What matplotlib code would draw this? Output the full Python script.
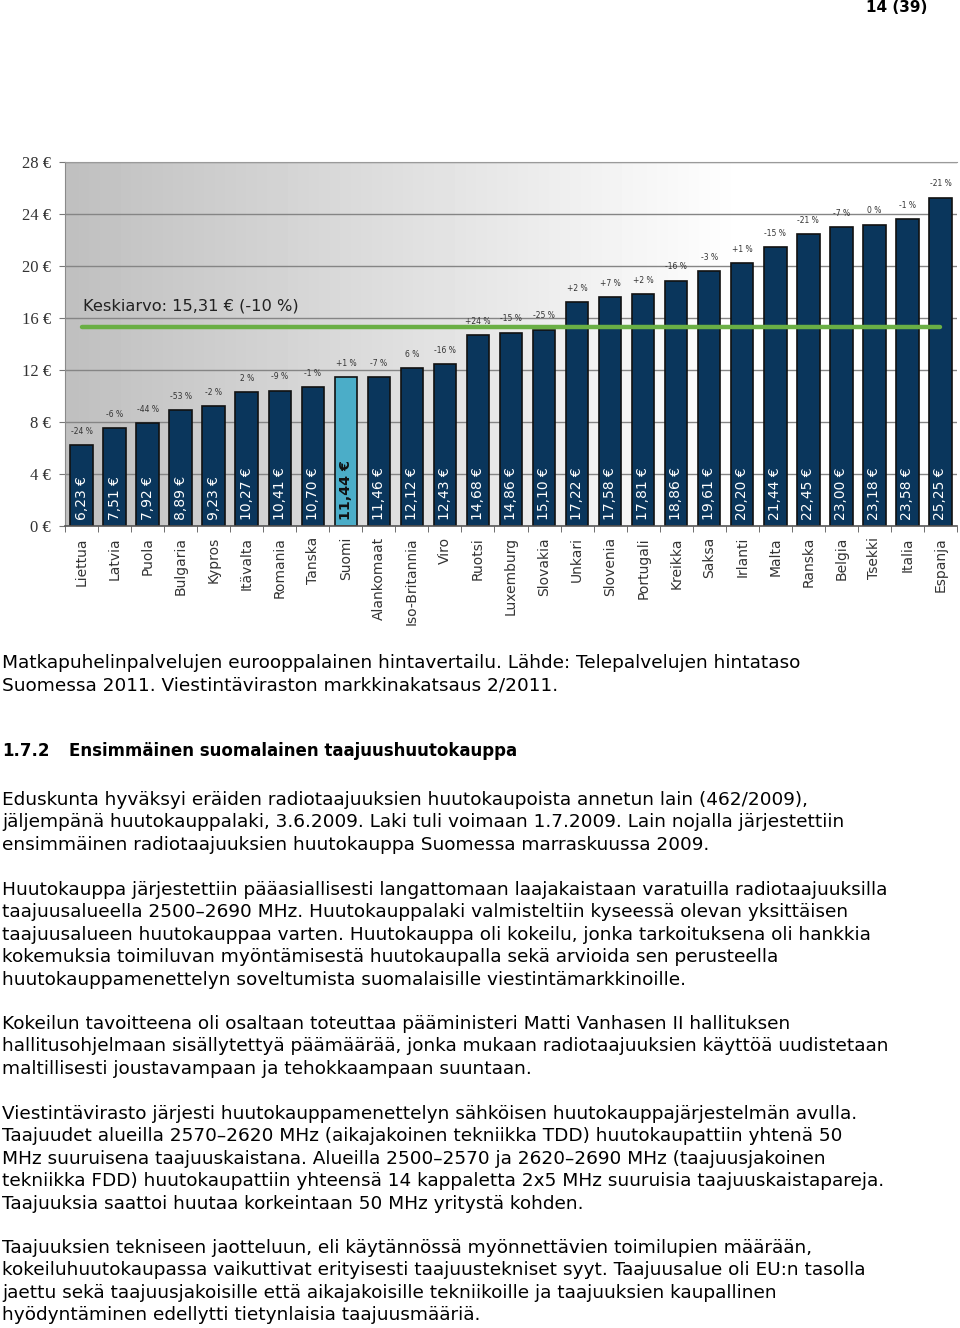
import numpy as np
import matplotlib.pyplot as plt

countries = ['Liettua', 'Latvia', 'Puola', 'Bulgaria', 'Kypros', 'Itävalta', 'Romania',
             'Tanska', 'Suomi', 'Alankomaat', 'Iso-Britannia', 'Viro', 'Ruotsi', 'Luxemburg',
             'Slovakia', 'Unkari', 'Slovenia', 'Portugali', 'Kreikka', 'Saksa', 'Irlanti',
             'Malta', 'Ranska', 'Belgia', 'Tsekki', 'Italia', 'Espanja']
prices = [6.23, 7.51, 7.92, 8.89, 9.23, 10.27, 10.41, 10.70, 11.44, 11.46, 12.12, 12.43,
          14.68, 14.86, 15.10, 17.22, 17.58, 17.81, 18.86, 19.61, 20.20, 21.44, 22.45,
          23.00, 23.18, 23.58, 25.25]
changes = ['-24 %', '-6 %', '-44 %', '-53 %', '-2 %', '2 %', '-9 %', '-1 %', '+1 %', '-7 %',
           '6 %', '-16 %', '+24 %', '-15 %', '-25 %', '+2 %', '+7 %', '+2 %', '-16 %', '-3 %',
           '+1 %', '-15 %', '-21 %', '-7 %', '0 %', '-1 %', '-21 %']
average = 15.31
avg_label = 'Keskiarvo: 15,31 € (-10 %)'
yticks = [0, 4, 8, 12, 16, 20, 24, 28]
highlight = 'Suomi'

caption = ['Matkapuhelinpalvelujen eurooppalainen hintavertailu. Lähde: Telepalvelujen hintataso',
           'Suomessa 2011. Viestintäviraston markkinakatsaus 2/2011.']
heading_no = '1.7.2'
heading = 'Ensimmäinen suomalainen taajuushuutokauppa'
paragraphs = [
    ['Eduskunta hyväksyi eräiden radiotaajuuksien huutokaupoista annetun lain (462/2009),',
     'jäljempänä huutokauppalaki, 3.6.2009. Laki tuli voimaan 1.7.2009. Lain nojalla järjestettiin',
     'ensimmäinen radiotaajuuksien huutokauppa Suomessa marraskuussa 2009.'],
    ['Huutokauppa järjestettiin pääasiallisesti langattomaan laajakaistaan varatuilla radiotaajuuksilla',
     'taajuusalueella 2500–2690 MHz. Huutokauppalaki valmisteltiin kyseessä olevan yksittäisen',
     'taajuusalueen huutokauppaa varten. Huutokauppa oli kokeilu, jonka tarkoituksena oli hankkia',
     'kokemuksia toimiluvan myöntämisestä huutokaupalla sekä arvioida sen perusteella',
     'huutokauppamenettelyn soveltumista suomalaisille viestintämarkkinoille.'],
    ['Kokeilun tavoitteena oli osaltaan toteuttaa pääministeri Matti Vanhasen II hallituksen',
     'hallitusohjelmaan sisällytettyä päämäärää, jonka mukaan radiotaajuuksien käyttöä uudistetaan',
     'maltillisesti joustavampaan ja tehokkaampaan suuntaan.'],
    ['Viestintävirasto järjesti huutokauppamenettelyn sähköisen huutokauppajärjestelmän avulla.',
     'Taajuudet alueilla 2570–2620 MHz (aikajakoinen tekniikka TDD) huutokaupattiin yhtenä 50',
     'MHz suuruisena taajuuskaistana. Alueilla 2500–2570 ja 2620–2690 MHz (taajuusjakoinen',
     'tekniikka FDD) huutokaupattiin yhteensä 14 kappaletta 2x5 MHz suuruisia taajuuskaistapareja.',
     'Taajuuksia saattoi huutaa korkeintaan 50 MHz yritystä kohden.'],
    ['Taajuuksien tekniseen jaotteluun, eli käytännössä myönnettävien toimilupien määrään,',
     'kokeiluhuutokaupassa vaikuttivat erityisesti taajuustekniset syyt. Taajuusalue oli EU:n tasolla',
     'jaettu sekä taajuusjakoisille että aikajakoisille tekniikoille ja taajuuksien kaupallinen',
     'hyödyntäminen edellytti tietynlaisia taajuusmääriä.'],
]

W, H = 960, 1328
fig = plt.figure(figsize=(W / 100, H / 100), dpi=100)

def fy(px):
    return 1 - px / H

ax = fig.add_axes([65 / W, fy(526), (957 - 65) / W, (526 - 162) / H])
n = len(countries)
x = np.arange(n)

# gray -> white gradient behind the bars
grad = np.linspace(0.75, 1.0, 256)
grad = np.clip(grad + np.linspace(0, 0.08, 256), 0, 1)
ax.imshow(np.tile(grad, (2, 1)), cmap='gray', vmin=0, vmax=1, aspect='auto',
          extent=[-0.5, n - 0.5, 0, 28], zorder=0)

for t in yticks[1:]:
    ax.axhline(t, color='#858585', lw=1, zorder=1)

colors = ['#4badc8' if c == highlight else '#0a365c' for c in countries]
ax.bar(x, prices, width=0.68, color=colors, edgecolor='#111111', linewidth=1.2, zorder=2)

for i, (p, c, ch) in enumerate(zip(prices, countries, changes)):
    lbl = ('%.2f €' % p).replace('.', ',')
    if c == highlight:
        ax.text(i, 0.45, lbl, rotation=90, ha='center', va='bottom', color='#111111',
                fontsize=10.3, fontweight='bold', zorder=4)
    else:
        ax.text(i, 0.45, lbl, rotation=90, ha='center', va='bottom', color='white',
                fontsize=10, zorder=4)
    ax.annotate(ch, (i, p), xytext=(0, 10), textcoords='offset points', ha='center',
                va='center', fontsize=5.5, color='#333333', zorder=4)

ax.plot([0, n - 1], [average, average], color='#6aaf45', lw=3.2, solid_capstyle='round', zorder=3)
ax.text(0.05, average + 1.6, avg_label, fontsize=11.7, color='#222222', va='center', zorder=4)

ax.set_xlim(-0.5, n - 0.5)
ax.set_ylim(0, 28)
ax.set_yticks(yticks)
ax.set_yticklabels(['%d €' % t for t in yticks], family='Liberation Serif', fontsize=12,
                   color='#333333')
ax.set_xticks(x)
ax.set_xticklabels(countries, rotation=90, fontsize=10, color='#333333')
ax.set_xticks(np.arange(n + 1) - 0.5, minor=True)
ax.tick_params(axis='x', which='major', length=0, pad=8)
ax.tick_params(axis='x', which='minor', length=4, color='#555555', direction='out')
ax.tick_params(axis='y', length=4, color='#777777', pad=6)
ax.spines['right'].set_visible(False)
ax.spines['top'].set_color('#9a9a9a')
ax.spines['left'].set_color('#8a8a8a')
ax.spines['bottom'].set_color('#555555')
ax.spines['bottom'].set_linewidth(1.2)

# page number
fig.text(927 / W, fy(8), '14 (39)', ha='right', va='center', fontsize=11, fontweight='bold')

# text below the chart
fs = 13.3
step = 22.4
fig.text(2 / W, fy(663), caption[0], fontsize=fs, va='center')
fig.text(2 / W, fy(663 + step), caption[1], fontsize=fs, va='center')
fig.text(2 / W, fy(751), heading_no, fontsize=12, va='center', fontweight='bold')
fig.text(69 / W, fy(751), heading, fontsize=12, va='center', fontweight='bold')
starts = [800, 890, 1024, 1114, 1248]
for y0, para in zip(starts, paragraphs):
    for k, line in enumerate(para):
        fig.text(2 / W, fy(y0 + k * step), line, fontsize=fs, va='center')

fig.savefig('out.png', dpi=100)
